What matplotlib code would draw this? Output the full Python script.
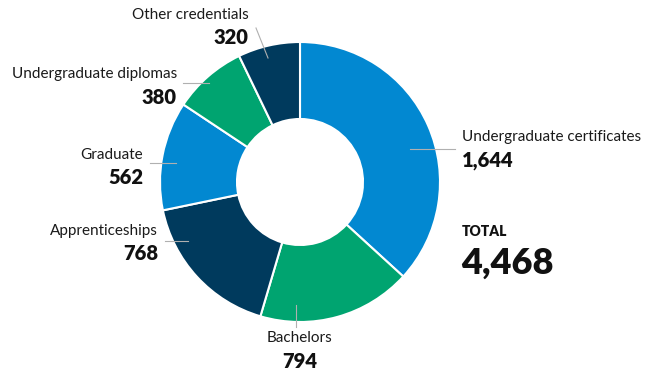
import numpy as np
import matplotlib.pyplot as plt

# data
labels = ['Undergraduate certificates', 'Bachelors', 'Apprenticeships',
          'Graduate', 'Undergraduate diplomas', 'Other credentials']
values = [1644, 794, 768, 562, 380, 320]
total = sum(values)

blue = '#0288d1'
green = '#00a470'
navy = '#003a5d'
colors = [blue, green, navy, blue, green, navy]

plt.rcParams['font.family'] = ['Lato', 'DejaVu Sans']

fig = plt.figure(figsize=(6.5, 3.75), dpi=100)
ax = fig.add_axes([0, 0, 1, 1])

# donut, pixel coords (y flipped below so start angle/direction adjusted)
ax.pie(values, colors=colors, startangle=-90, counterclock=True,
       center=(300, 182), radius=140,
       wedgeprops=dict(width=77, edgecolor='white', linewidth=1.5))
ax.set_xlim(0, 650)
ax.set_ylim(375, 0)
ax.set_aspect('equal')
ax.axis('off')

# label layout: (name x, name y, ha, line start, line end)
layout = [
    (462, 137, 'left', (410, 149), (455, 149)),
    (300, 338, 'center', (296, 305), (296, 327)),
    (158, 231, 'right', (165, 241), (188, 241)),
    (143, 155, 'right', (150, 163), (176, 163)),
    (177, 74, 'right', (183, 83), (209, 83)),
    (248, 15, 'right', (256, 28), (268, 58)),
]

for name, val, (x, y, ha, p0, p1) in zip(labels, values, layout):
    ax.plot([p0[0], p1[0]], [p0[1], p1[1]], color='#b0b0b0', lw=0.8)
    if name == 'Other credentials':
        ax.text(190, y, name, ha='center', va='center', fontsize=11, color='#1a1a1a')
    else:
        ax.text(x, y, name, ha=ha, va='center', fontsize=11, color='#1a1a1a')
    ax.text(x, y + 23, f'{val:,}', ha=ha, va='center', fontsize=14.5,
            fontweight='heavy', color='#111111')

ax.text(462, 232, 'TOTAL', ha='left', va='center', fontsize=10,
        fontweight='heavy', color='#111111')
ax.text(461, 263, f'{total:,}', ha='left', va='center', fontsize=26,
        fontweight='heavy', color='#111111')

plt.savefig('out.png', dpi=100)
